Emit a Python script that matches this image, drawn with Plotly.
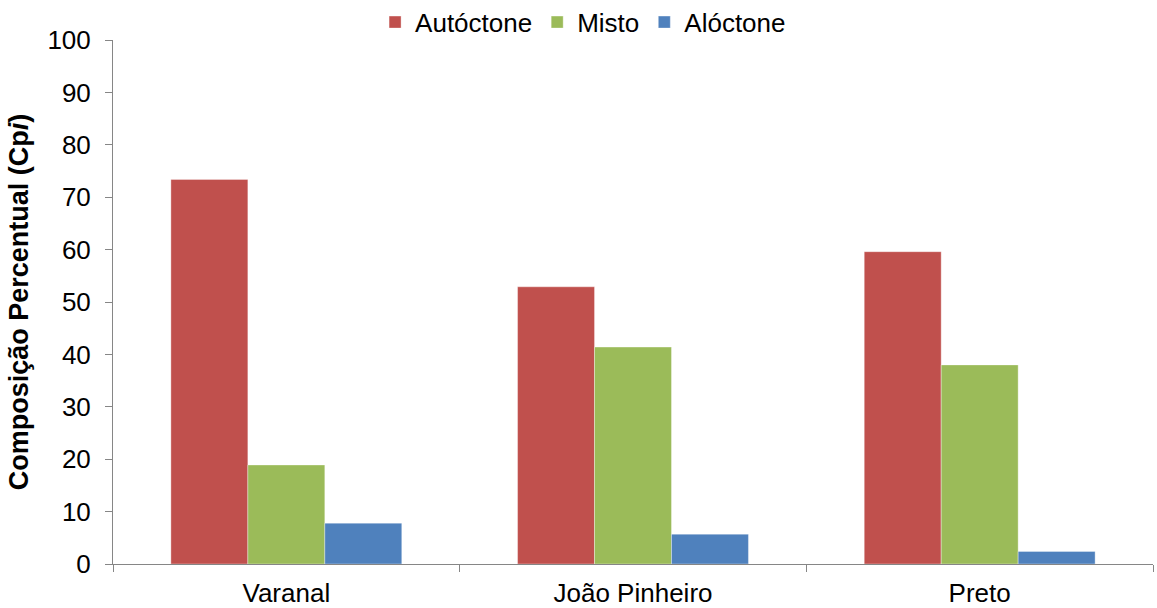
import plotly.graph_objects as go

categories = ["Varanal", "João Pinheiro", "Preto"]
autoctone = [73.4, 52.9, 59.6]
misto = [18.9, 41.4, 38.0]
aloctone = [7.8, 5.7, 2.4]
y_ticks = [0, 10, 20, 30, 40, 50, 60, 70, 80, 90, 100]

series = [
    ("Autóctone", autoctone, "#C0504D"),
    ("Misto", misto, "#9BBB59"),
    ("Alóctone", aloctone, "#4F81BD"),
]

fig = go.Figure()
for name, vals, color in series:
    fig.add_trace(go.Bar(
        x=categories, y=vals, name=name,
        marker=dict(color=color, line=dict(width=0.6, color="rgba(255,255,255,0.6)")),
    ))

axis_color = "#868686"
font = "Arial, Liberation Sans, sans-serif"

fig.update_layout(
    width=1157, height=608,
    barmode="group", bargap=0.334, bargroupgap=0,
    plot_bgcolor="white", paper_bgcolor="white",
    margin=dict(l=113, r=4, t=40, b=44, autoexpand=False),
    font=dict(family=font, size=26, color="black"),
    legend=dict(orientation="h", x=0.452, xanchor="center", y=1.034, yanchor="middle",
                font=dict(size=26), itemwidth=30, tracegroupgap=0,
                bgcolor="rgba(0,0,0,0)"),
    xaxis=dict(
        type="category", range=[-0.5, 2.5], tickson="boundaries",
        ticks="outside", ticklen=7, tickcolor=axis_color, tickwidth=1,
        showline=True, linecolor=axis_color, linewidth=1,
        showgrid=False, tickfont=dict(size=26), ticklabelstandoff=6,
    ),
    yaxis=dict(
        range=[0, 100], tickvals=y_ticks, ticks="outside", ticklen=7,
        tickcolor=axis_color, showline=True, linecolor=axis_color, linewidth=1,
        showgrid=False, zeroline=False, tickfont=dict(size=26), ticklabelstandoff=9,
        title=dict(text="<b>Composição Percentual (Cp<i>i</i>)</b>",
                   font=dict(size=27), standoff=10),
    ),
)

fig.write_html("out.html")
